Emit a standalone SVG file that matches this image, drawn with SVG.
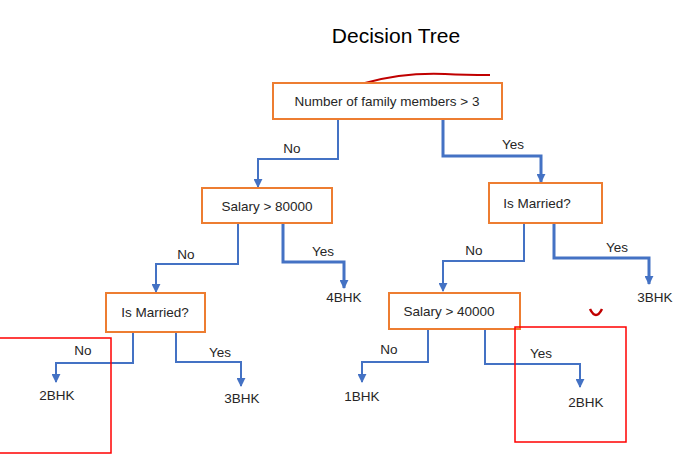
<svg xmlns="http://www.w3.org/2000/svg" width="678" height="457" viewBox="0 0 678 457">
<style>
.box{fill:#fff;stroke:#ED7D31;stroke-width:2}
.t{font-family:"Liberation Sans",Arial,sans-serif;font-size:13.5px;fill:#262626;text-anchor:middle;dominant-baseline:central}
.c{fill:none;stroke:#4472C4;stroke-width:2}
.c3{stroke-width:3}
.red{fill:none;stroke:#FF0000;stroke-width:1.5}
</style>
<defs>
<marker id="ah" viewBox="0 0 10 10" refX="9" refY="5" markerWidth="9" markerHeight="9" orient="auto" markerUnits="userSpaceOnUse">
<path d="M0,0 L10,5 L0,10 z" fill="#4472C4"/>
</marker>
</defs>
<rect width="678" height="457" fill="#fff"/>
<text x="396" y="35" class="t" style="font-size:21px;fill:#000">Decision Tree</text>
<path d="M365,83 C390,76 420,73 445,74 C465,75 480,75 490,75" fill="none" stroke="#C00000" stroke-width="2"/>
<path d="M590,309 Q596,321 602,309" fill="none" stroke="#C00000" stroke-width="2.5"/>
<g id="connectors">
<path class="c" d="M338,119 V159 H258 V187" marker-end="url(#ah)"/>
<text class="t" x="292" y="148">No</text>
<path class="c c3" d="M443,119 V156 H541 V182" marker-end="url(#ah)"/>
<text class="t" x="513" y="144">Yes</text>
<path class="c" d="M238,223 V264 H156 V292" marker-end="url(#ah)"/>
<text class="t" x="186" y="254">No</text>
<path class="c c3" d="M283,223 V262 H344 V288" marker-end="url(#ah)"/>
<text class="t" x="323" y="251">Yes</text>
<path class="c" d="M524,223 V261 H443 V291" marker-end="url(#ah)"/>
<text class="t" x="474" y="250">No</text>
<path class="c c3" d="M554,223 V258 H649 V284" marker-end="url(#ah)"/>
<text class="t" x="617" y="247">Yes</text>
<path class="c" d="M133,332 V363 H56 V382" marker-end="url(#ah)"/>
<text class="t" x="83" y="350">No</text>
<path class="c" d="M176,332 V362 H241 V386" marker-end="url(#ah)"/>
<text class="t" x="220" y="352">Yes</text>
<path class="c" d="M428,329 V362 H362 V382" marker-end="url(#ah)"/>
<text class="t" x="389" y="349">No</text>
<path class="c" d="M485,329 V364 H580 V387" marker-end="url(#ah)"/>
<text class="t" x="541" y="353">Yes</text>
</g>
<g id="root"><rect class="box" x="273" y="83" width="229" height="36"/><text class="t" x="387" y="101">Number of family members &gt; 3</text></g>
<g id="salary80"><rect class="box" x="202" y="188" width="130" height="35"/><text class="t" x="267" y="206">Salary &gt; 80000</text></g>
<g id="married1"><rect class="box" x="489" y="183" width="113" height="40"/><text class="t" x="537" y="203">Is Married?</text></g>
<g id="married2"><rect class="box" x="106" y="293" width="99" height="39"/><text class="t" x="155" y="312">Is Married?</text></g>
<g id="salary40"><rect class="box" x="389" y="293" width="131" height="36"/><text class="t" x="449" y="311">Salary &gt; 40000</text></g>
<g id="leaf4bhk"><text class="t" x="344" y="297">4BHK</text></g>
<g id="leaf3bhk1"><text class="t" x="655" y="297">3BHK</text></g>
<g id="leaf2bhk1"><text class="t" x="57" y="395">2BHK</text></g>
<g id="leaf3bhk2"><text class="t" x="242" y="398">3BHK</text></g>
<g id="leaf1bhk"><text class="t" x="362" y="396">1BHK</text></g>
<g id="leaf2bhk2"><text class="t" x="586" y="402">2BHK</text></g>
<rect class="red" x="-2" y="338" width="113" height="115"/>
<rect class="red" x="515" y="327" width="111" height="115"/>
</svg>
